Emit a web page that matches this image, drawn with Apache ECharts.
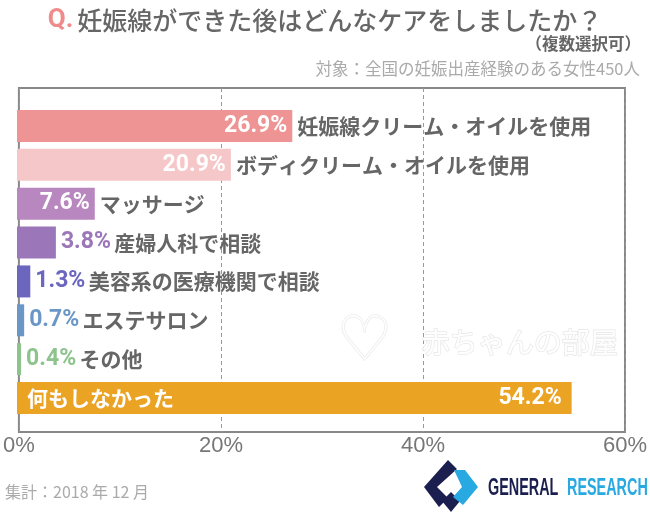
<!DOCTYPE html>
<html>
<head>
<meta charset="utf-8">
<style>
html,body{margin:0;padding:0;background:#fff;}
#c{width:650px;height:513px;}
</style>
<script src="https://cdn.jsdelivr.net/npm/echarts@6/dist/echarts.min.js"></script>
</head>
<body>
<div id="c"></div>
<script>
// ---- data ----
const categories = ['妊娠線クリーム・オイルを使用','ボディクリーム・オイルを使用','マッサージ','産婦人科で相談','美容系の医療機関で相談','エステサロン','その他','何もしなかった'];
const values = [26.9, 20.9, 7.6, 3.8, 1.3, 0.7, 0.4, 54.2];
const xTicks = ['0%','20%','40%','60%'];
const palette = ['#ef9494','#f6c7c9','#b987bf','#9b77b9','#6b67bf','#6b97c6','#8dc38d','#eba324'];

const titleQ = 'Q.';
const titleText = '妊娠線ができた後はどんなケアをしましたか？';
const subNote = '（複数選択可）';
const subTarget = '対象：全国の妊娠出産経験のある女性450人';
const footNote = '集計：2018 年 12 月';

// ---- style constants ----
const JP = '"Noto Sans CJK JP", sans-serif';
const NUM = 'Roboto, "Liberation Sans", sans-serif';
const nameStyle = {fontFamily: JP, fontWeight: 'bold', fontSize: 21, color: '#666'};
const valStyle = {fontFamily: NUM, fontWeight: 'bold', fontSize: 23};

const mainData = values.map((v, i) => {
  const txt = v.toFixed(1) + '%';
  let label;
  if (v >= 5) {
    label = Object.assign({show: true, position: 'insideRight', distance: v > 40 ? 10 : 5, formatter: txt, color: '#fff'}, valStyle);
  } else {
    label = {
      show: true, position: 'right', distance: 5,
      formatter: '{v|' + txt + '} {n|' + categories[i] + '}',
      rich: {
        v: Object.assign({}, valStyle, {color: palette[i]}),
        n: Object.assign({}, nameStyle)
      }
    };
  }
  return {value: v, itemStyle: {color: palette[i]}, label};
});

const nameData = values.map((v, i) => {
  let label;
  if (v > 40) {
    label = Object.assign({}, nameStyle, {show: true, position: 'insideLeft', distance: 10, formatter: categories[i], color: '#fff'});
  } else if (v >= 5) {
    label = Object.assign({}, nameStyle, {show: true, position: 'right', distance: 5, formatter: categories[i]});
  } else {
    label = {show: false};
  }
  return {value: v, label};
});

const chart = echarts.init(document.getElementById('c'), null, {renderer: 'canvas'});

const option = {
  backgroundColor: '#fff',
  animation: false,
  title: [
    {
      text: '{q|' + titleQ + '}{t|' + titleText + '}',
      left: 'center', top: 2,
      textStyle: {
        rich: {
          q: {fontFamily: NUM, fontWeight: 'bold', fontSize: 26, color: '#f08b8b', padding: [0, 4, 0, 0]},
          t: {fontFamily: JP, fontWeight: 500, fontSize: 25, color: '#666'}
        }
      }
    },
    {
      text: subNote, right: 4, top: 30,
      textStyle: {fontFamily: JP, fontWeight: 'bold', fontSize: 16.5, color: '#666'}
    },
    {
      text: subTarget, right: 5, top: 55,
      textStyle: {fontFamily: JP, fontWeight: 'normal', fontSize: 16.5, color: '#aaa'}
    },
    {
      text: footNote, left: 0, top: 479,
      textStyle: {fontFamily: JP, fontWeight: 'normal', fontSize: 16, color: '#aaa'}
    }
  ],
  grid: [
    {left: 17, right: 19, top: 88, bottom: 81, show: true, borderColor: '#888', borderWidth: 2, backgroundColor: 'transparent'},
    {left: 17, right: 19, top: 106.5, bottom: 95.5}
  ],
  xAxis: [
    {
      gridIndex: 0, type: 'value', min: 0, max: 60, interval: 20,
      axisLine: {show: false}, axisTick: {show: false},
      splitLine: {show: true, lineStyle: {type: [4, 3], color: '#999', width: 1}},
      axisLabel: {
        show: true, margin: 3, showMinLabel: true, showMaxLabel: true,
        fontFamily: '"Liberation Sans", Arial, sans-serif', fontSize: 22, color: '#777',
        formatter: (val) => xTicks[Math.round(val / 20)]
      }
    },
    {
      gridIndex: 1, type: 'value', min: 0, max: 60, interval: 20,
      axisLine: {show: false}, axisTick: {show: false}, axisLabel: {show: false}, splitLine: {show: false}
    }
  ],
  yAxis: [
    {gridIndex: 0, type: 'category', data: ['a'], show: false},
    {gridIndex: 1, type: 'category', data: categories, inverse: true, show: false}
  ],
  series: [
    {
      type: 'bar', xAxisIndex: 1, yAxisIndex: 1, barWidth: 32, barGap: '-100%',
      data: mainData, z: 3
    },
    {
      type: 'bar', xAxisIndex: 1, yAxisIndex: 1, barWidth: 32, barGap: '-100%',
      itemStyle: {color: 'rgba(0,0,0,0)'},
      data: nameData, z: 4, silent: true
    }
  ],
  graphic: [
    // faint watermark
    {
      type: 'text', left: 336, top: 312, z: 1, silent: true,
      style: {text: '♡', font: '62px "DejaVu Sans"', fill: '#fff', stroke: '#ebebeb', lineWidth: 1.5}
    },
    {
      type: 'text', left: 421, top: 328, z: 1, silent: true,
      style: {text: '赤ちゃんの部屋', font: '28px ' + JP, fill: '#fff', stroke: '#e8e8e8', lineWidth: 1.5}
    },
    // logo mark
    {
      type: 'polygon', z: 10, silent: true,
      shape: {points: [[448, 460], [457, 469], [437, 487], [448, 498], [439, 507], [424, 487]]},
      style: {fill: '#1b1f4f'}
    },
    {
      type: 'polygon', z: 10, silent: true,
      shape: {points: [[442, 501], [451, 492], [460, 501], [451, 512]]},
      style: {fill: '#1b1f4f'}
    },
    {
      type: 'polygon', z: 10, silent: true,
      shape: {points: [[454, 470], [465, 470], [478, 487], [463, 505], [453, 497], [462, 487]]},
      style: {fill: '#29a9e1'}
    },
    {
      type: 'text', x: 488, y: 476, scaleX: 0.6, z: 10, silent: true,
      style: {text: 'GENERAL', font: 'bold 24px "Liberation Sans", sans-serif', fill: '#1b1f4f', textVerticalAlign: 'top'}
    },
    {
      type: 'text', x: 567, y: 476, scaleX: 0.6, z: 10, silent: true,
      style: {text: 'RESEARCH', font: 'bold 24px "Liberation Sans", sans-serif', fill: '#29a9e1', textVerticalAlign: 'top'}
    }
  ]
};
chart.setOption(option);
</script>
</body>
</html>
